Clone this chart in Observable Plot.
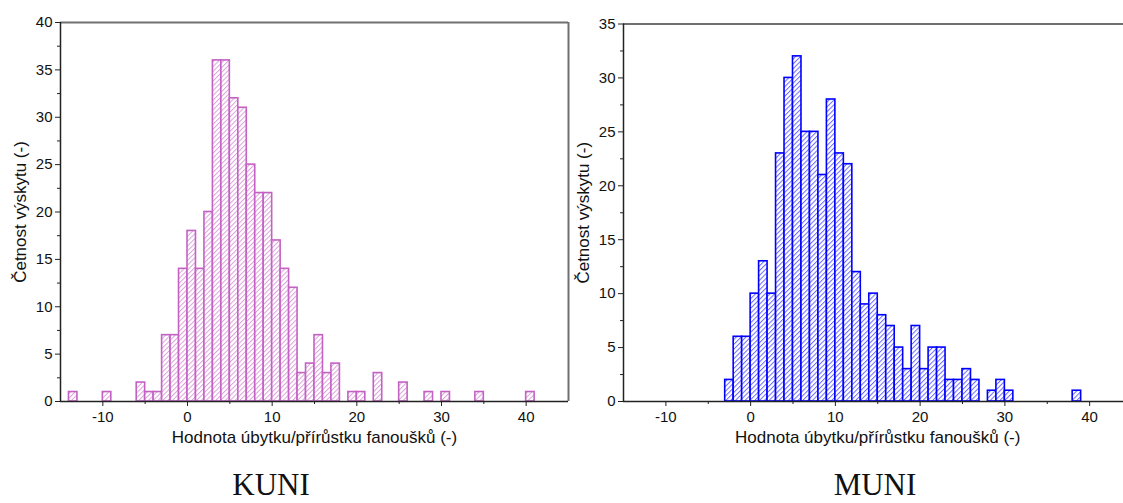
<!DOCTYPE html>
<html>
<head>
<meta charset="utf-8">
<script src="https://cdn.jsdelivr.net/npm/d3@7"></script>
<script src="https://cdn.jsdelivr.net/npm/@observablehq/plot@0.6"></script>
<style>
  html, body { margin: 0; padding: 0; background: #fff; overflow: hidden; }
  #wrap { position: relative; width: 1123px; height: 503px; overflow: hidden; }
  .chart { position: absolute; top: 0; }
  .cap { position: absolute; top: 469px; width: 200px; text-align: center;
         font-family: "Liberation Serif", "Times New Roman", serif; font-size: 31px; line-height: 31px; color: #111; }
</style>
</head>
<body>
<div id="wrap">
  <div id="kuni" class="chart" style="left:0px"></div>
  <div id="muni" class="chart" style="left:563px"></div>
  <div class="cap" style="left:171px">KUNI</div>
  <div class="cap" style="left:775px">MUNI</div>
</div>
<script>
// KUNI histogram: bin start (bin width 1) and count
const kuniBinStart = [-14,-10,-6,-5,-4,-3,-2,-1,0,1,2,3,4,5,6,7,8,9,10,11,12,13,14,15,16,17,19,20,22,25,28,30,34,40];
const kuniCounts   = [1,1,2,1,1,7,7,14,18,14,20,36,36,32,31,25,22,22,17,14,12,3,4,7,3,4,1,1,3,2,1,1,1,1];
// MUNI histogram
const muniBinStart = [-3,-2,-1,0,1,2,3,4,5,6,7,8,9,10,11,12,13,14,15,16,17,18,19,20,21,22,23,24,25,26,28,29,30,38];
const muniCounts   = [2,6,6,10,13,10,23,30,32,25,25,21,28,23,22,12,9,10,8,7,5,3,7,3,5,5,2,2,3,2,1,2,1,1];
const binWidth = 1;
const xDomain = [-15, 45];
const xMajorTicks = [-10, 0, 10, 20, 30, 40];
const xMinorTicks = [-5, 5, 15, 25, 35];
const kuniYMax = 40, muniYMax = 35;
const xLabel = "Hodnota úbytku/přírůstku fanoušků (-)";
const yLabel = "Četnost výskytu (-)";

function hist(el, starts, counts, yMax, color, hatch, id, opts) {
  const data = starts.map((s, i) => ({s, c: counts[i]}));
  const yMajor = d3.range(0, yMax + 0.001, 5);
  const yMinor = d3.range(2.5, yMax, 5);
  const svg = Plot.plot({
    width: opts.width,
    height: 455,
    marginLeft: 60,
    marginRight: opts.marginRight,
    marginTop: opts.marginTop,
    marginBottom: 54,
    style: {fontFamily: "'Liberation Sans', Arial, sans-serif", fontSize: "15px", color: "#111", background: "transparent", overflow: "hidden"},
    x: {domain: xDomain, axis: null},
    y: {domain: [0, yMax], axis: null},
    marks: [
      Plot.rectY(data, {x1: d => d.s, x2: d => d.s + binWidth, y: "c", fill: `url(#${id})`, stroke: color, strokeWidth: 1.6}),
      Plot.ruleY([yMax], {stroke: "#707070", strokeWidth: 2}),
      Plot.ruleX([xDomain[1]], {stroke: "#707070", strokeWidth: 2}),
      Plot.ruleY([0], {stroke: "#222", strokeWidth: 1.5}),
      Plot.ruleX([xDomain[0]], {stroke: "#222", strokeWidth: 1.5}),
      Plot.axisX({ticks: xMajorTicks, tickSize: 5, tickPadding: 5, tickFormat: d => String(d), label: null, stroke: "#222", fontSize: 15}),
      Plot.axisX({ticks: xMinorTicks, tickSize: 3, tickFormat: () => "", label: null, stroke: "#222"}),
      Plot.axisY({ticks: yMajor, tickSize: 5, tickPadding: 3, tickFormat: d => String(d), label: null, stroke: "#222", fontSize: 15}),
      Plot.axisY({ticks: yMinor, tickSize: 3, tickFormat: () => "", label: null, stroke: "#222"}),
      Plot.text([yLabel], {frameAnchor: "left", textAnchor: "middle", dx: -40, rotate: -90, fontSize: 17, fill: "#111"}),
      Plot.text([xLabel], {frameAnchor: "bottom", textAnchor: "middle", dy: 41, fontSize: 17, fill: "#111"})
    ]
  });
  const ns = "http://www.w3.org/2000/svg";
  const defs = document.createElementNS(ns, "defs");
  const pat = document.createElementNS(ns, "pattern");
  pat.setAttribute("id", id);
  pat.setAttribute("patternUnits", "userSpaceOnUse");
  pat.setAttribute("width", "3.4");
  pat.setAttribute("height", "3.4");
  pat.setAttribute("patternTransform", "rotate(45)");
  const bg = document.createElementNS(ns, "rect");
  bg.setAttribute("width", "3.4"); bg.setAttribute("height", "3.4"); bg.setAttribute("fill", "#fff");
  const ln = document.createElementNS(ns, "line");
  ln.setAttribute("x1", "0.5"); ln.setAttribute("y1", "0");
  ln.setAttribute("x2", "0.5"); ln.setAttribute("y2", "3.4");
  ln.setAttribute("stroke", hatch); ln.setAttribute("stroke-width", "1");
  pat.appendChild(bg); pat.appendChild(ln); defs.appendChild(pat);
  svg.insertBefore(defs, svg.firstChild);
  document.getElementById(el).appendChild(svg);
}

hist("kuni", kuniBinStart, kuniCounts, kuniYMax, "#c462c4", "#dba2db", "hatchK", {width: 570, marginRight: 2, marginTop: 22});
hist("muni", muniBinStart, muniCounts, muniYMax, "#0000ff", "#6a6aff", "hatchM", {width: 560, marginRight: -8.5, marginTop: 23.5});
</script>
</body>
</html>
